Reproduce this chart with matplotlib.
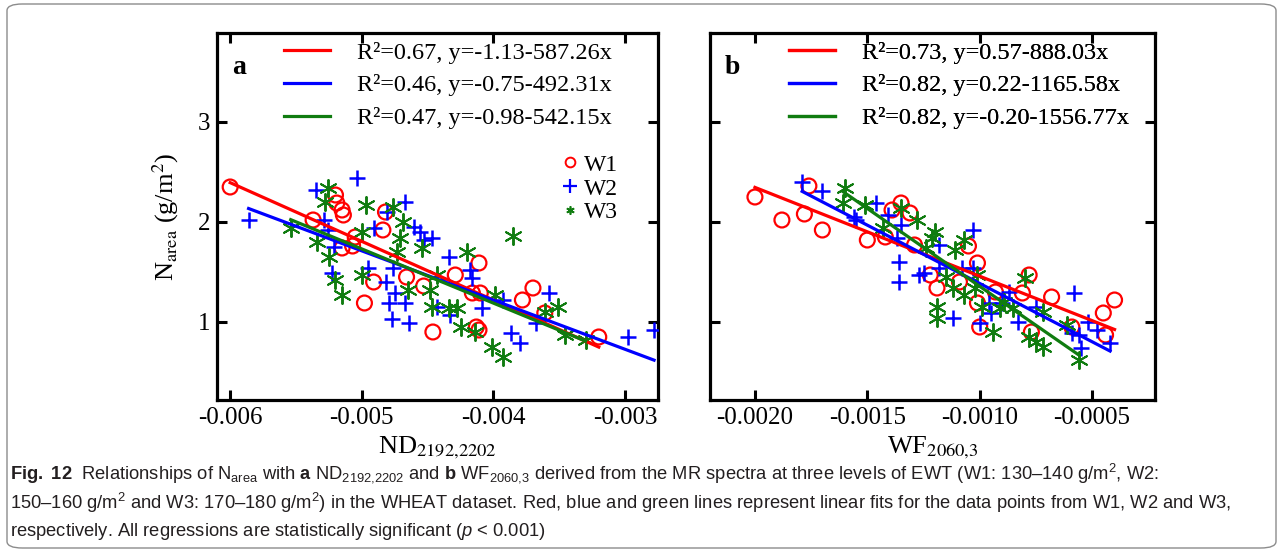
import numpy as np
import matplotlib
matplotlib.use("Agg")
import matplotlib.pyplot as plt
from matplotlib.lines import Line2D
from matplotlib.patches import FancyBboxPatch

# ---- panel a : N_area vs ND(2192,2202) ----
nd_w1_x = [-0.00600, -0.00537, -0.00520, -0.00519, -0.00515, -0.00514, -0.00505, -0.00507, -0.00515,
           -0.00491, -0.00498, -0.00482, -0.00484, -0.00466, -0.00453, -0.00446, -0.00429, -0.00411,
           -0.00416, -0.00410, -0.00413, -0.00411, -0.00378, -0.00370, -0.00361, -0.00320]
nd_w1_y = [2.35, 2.02, 2.27, 2.19, 2.12, 2.07, 1.85, 1.76, 1.74,
           1.40, 1.19, 2.10, 1.92, 1.45, 1.36, 0.90, 1.47, 1.59,
           1.29, 1.29, 0.95, 0.92, 1.22, 1.34, 1.09, 0.85]
nd_w2_x = [-0.00586, -0.00535, -0.00504, -0.00529, -0.00526, -0.00521, -0.00523, -0.00495, -0.00491,
           -0.00481, -0.00467, -0.00460, -0.00456, -0.00447, -0.00453, -0.00434, -0.00418, -0.00416,
           -0.00476, -0.00482, -0.00475, -0.00479, -0.00467, -0.00477, -0.00464, -0.00443, -0.00433,
           -0.00409, -0.00393, -0.00387, -0.00380, -0.00368, -0.00358, -0.00298, -0.00278]
nd_w2_y = [2.02, 2.32, 2.44, 2.02, 1.92, 1.75, 1.49, 1.54, 1.94,
           2.10, 2.20, 1.95, 1.90, 1.84, 1.82, 1.65, 1.52, 1.44,
           1.54, 1.40, 1.29, 1.19, 1.19, 1.03, 0.99, 1.15, 1.07,
           1.14, 1.22, 0.89, 0.79, 0.99, 1.29, 0.85, 0.92]
nd_w3_x = [-0.00554, -0.00526, -0.00528, -0.00497, -0.00534, -0.00525, -0.00520, -0.00515, -0.00500,
           -0.00500, -0.00476, -0.00469, -0.00471, -0.00473, -0.00454, -0.00465, -0.00448, -0.00443,
           -0.00447, -0.00434, -0.00428, -0.00425, -0.00414, -0.00420, -0.00385, -0.00399, -0.00401,
           -0.00393, -0.00361, -0.00351, -0.00346, -0.00330]
nd_w3_y = [1.94, 2.34, 2.20, 2.17, 1.80, 1.65, 1.42, 1.27, 1.90,
           1.47, 2.15, 2.00, 1.84, 1.70, 1.74, 1.32, 1.32, 1.47,
           1.15, 1.14, 1.14, 0.95, 0.90, 1.70, 1.86, 1.27, 0.75,
           0.65, 1.10, 1.15, 0.87, 0.82]
nd_intercept = [-1.13, -0.75, -0.98]
nd_slope = [-587.26, -492.31, -542.15]
nd_r2 = [0.67, 0.46, 0.47]

# ---- panel b : N_area vs WF(2060,3) ----
wf_w1_x = [-0.00200, -0.00188, -0.00178, -0.00176, -0.00170, -0.00150, -0.00142, -0.00139, -0.00135,
           -0.00131, -0.00129, -0.00105, -0.00101, -0.00122, -0.00119, -0.00109, -0.00101, -0.00100,
           -0.00093, -0.00081, -0.00078, -0.00068, -0.00077, -0.00059, -0.00045, -0.00040, -0.00044]
wf_w1_y = [2.25, 2.02, 2.08, 2.36, 1.92, 1.82, 1.85, 2.12, 2.19,
           2.09, 1.77, 1.76, 1.59, 1.47, 1.34, 1.40, 1.19, 0.95,
           1.30, 1.29, 1.47, 1.25, 0.90, 0.95, 1.09, 1.22, 0.87]
wf_w2_x = [-0.00179, -0.00170, -0.00156, -0.00155, -0.00146, -0.00141, -0.00135, -0.00137, -0.00136,
           -0.00136, -0.00127, -0.00103, -0.00118, -0.00125, -0.00118, -0.00108, -0.00103, -0.00112,
           -0.00096, -0.00095, -0.00087, -0.00083, -0.00075, -0.00058, -0.00059, -0.00056, -0.00055,
           -0.00100, -0.00090, -0.00052, -0.00048, -0.00042]
wf_w2_y = [2.40, 2.31, 2.05, 2.02, 2.19, 2.07, 1.97, 1.84, 1.60,
           1.40, 1.47, 1.92, 1.77, 1.49, 1.54, 1.54, 1.54, 1.04,
           1.19, 1.09, 1.30, 1.00, 1.15, 1.29, 0.89, 0.87, 0.74,
           0.99, 1.19, 1.00, 0.92, 0.79]
wf_w3_x = [-0.00160, -0.00161, -0.00151, -0.00135, -0.00143, -0.00128, -0.00120, -0.00121, -0.00124,
           -0.00111, -0.00107, -0.00115, -0.00112, -0.00107, -0.00102, -0.00101, -0.00119, -0.00119,
           -0.00099, -0.00091, -0.00089, -0.00085, -0.00072, -0.00080, -0.00094, -0.00078, -0.00075,
           -0.00072, -0.00061, -0.00056]
wf_w3_y = [2.34, 2.19, 2.17, 2.14, 1.94, 2.02, 1.90, 1.84, 1.74,
           1.72, 1.82, 1.45, 1.34, 1.27, 1.34, 1.47, 1.15, 1.04,
           1.15, 1.14, 1.20, 1.14, 1.10, 1.44, 0.90, 0.85, 0.80,
           0.75, 0.97, 0.62]
wf_intercept = [0.57, 0.22, -0.20]
wf_slope = [-888.03, -1165.58, -1556.77]
wf_r2 = [0.73, 0.82, 0.82]

nd_ticks = [-0.006, -0.005, -0.004, -0.003]
nd_ticklabels = ["-0.006", "-0.005", "-0.004", "-0.003"]
wf_ticks = [-0.0020, -0.0015, -0.0010, -0.0005]
wf_ticklabels = ["-0.0020", "-0.0015", "-0.0010", "-0.0005"]
y_ticks = [1, 2, 3]
y_ticklabels = ["1", "2", "3"]
group_names = ["W1", "W2", "W3"]

colors = ["#ff0000", "#0000ff", "#107c10"]
serif = ["Liberation Serif", "DejaVu Serif"]
sans = ["Liberation Sans", "DejaVu Sans"]

plt.rcParams["font.family"] = serif
plt.rcParams["mathtext.fontset"] = "custom"
plt.rcParams["mathtext.rm"] = "Liberation Sans"
plt.rcParams["mathtext.it"] = "Liberation Sans:italic"
plt.rcParams["mathtext.bf"] = "Liberation Sans:bold"


def fmt(v):
    return "%.2f" % v


def draw_panel(ax, xs, ys, icpt, slope, r2, ticks, ticklabels, xlim, letter, xlabel, legx):
    # scatter of the three EWT levels
    ax.scatter(xs[0], ys[0], s=115, facecolors="none", edgecolors=colors[0], linewidths=1.6, zorder=3)
    ax.scatter(xs[1], ys[1], s=140, marker="+", color=colors[1], linewidths=1.8, zorder=3)
    ax.scatter(xs[2], ys[2], s=150, marker=(6, 2, 0), color=colors[2], linewidths=1.4, zorder=3)
    # linear fits
    handles = []
    labels = []
    for i in range(3):
        xx = np.array([min(xs[i]), max(xs[i])])
        ax.plot(xx, icpt[i] + slope[i] * xx, color=colors[i], lw=2.3, zorder=4)
        handles.append(Line2D([], [], color=colors[i], lw=2.3))
        labels.append("R\u00b2=" + fmt(r2[i]) + ", y=" + fmt(icpt[i]) + "-" + fmt(-slope[i]) + "x")
    leg = ax.legend(handles, labels, loc="upper left", bbox_to_anchor=(legx, 0.99), frameon=False,
                    fontsize=17.5, handlelength=1.9, handletextpad=1.1, labelspacing=0.45,
                    borderpad=0.2, borderaxespad=0)
    ax.add_artist(leg)
    ax.text(0.05, 0.905, letter, transform=ax.transAxes, fontsize=20, fontweight="bold",
            ha="center", va="center")
    ax.set_xlim(xlim)
    ax.set_ylim(0.22, 3.89)
    ax.set_xticks(ticks)
    ax.set_xticklabels(ticklabels)
    ax.set_yticks(y_ticks)
    ax.set_yticklabels(y_ticklabels)
    ax.tick_params(direction="in", length=7, width=2.2, top=True, right=True, labelsize=18, pad=5)
    for sp in ax.spines.values():
        sp.set_linewidth(2.3)
    ax.set_xlabel(xlabel, fontsize=19, labelpad=4, math_fontfamily="stix")


def main():
    fig = plt.figure(figsize=(12.82, 5.52), dpi=100)
    W, H = 1282.0, 552.0

    box = FancyBboxPatch((7 / W, 4 / H), 1269 / W, 544 / H, boxstyle="round,pad=0,rounding_size=0.012",
                         transform=fig.transFigure, facecolor="none", edgecolor="#8c8c8c", lw=1.0)
    fig.patches.append(box)

    ax1 = fig.add_axes([217 / W, 1 - 400 / H, 441 / W, 367 / H])
    ax2 = fig.add_axes([710 / W, 1 - 400 / H, 445 / W, 367 / H])

    draw_panel(ax1, [nd_w1_x, nd_w2_x, nd_w3_x], [nd_w1_y, nd_w2_y, nd_w3_y],
               nd_intercept, nd_slope, nd_r2, nd_ticks, nd_ticklabels, (-0.0061, -0.00275), "a",
               r"ND$_{2192{,}2202}$", 0.14)
    draw_panel(ax2, [wf_w1_x, wf_w2_x, wf_w3_x], [wf_w1_y, wf_w2_y, wf_w3_y],
               wf_intercept, wf_slope, wf_r2, wf_ticks, wf_ticklabels, (-0.0022, -0.00022), "b",
               r"WF$_{2060{,}3}$", 0.167)
    ax2.set_yticklabels([])
    ax1.set_ylabel(r"N$_{\mathrm{area}}$ (g/m$^{2}$)", fontsize=19, labelpad=12, math_fontfamily="stix")

    # W1/W2/W3 marker key
    mk = [Line2D([], [], ls="none", marker="o", mfc="none", mec=colors[0], ms=7, mew=1.4),
          Line2D([], [], ls="none", marker="+", color=colors[1], ms=10, mew=1.6),
          Line2D([], [], ls="none", marker=(6, 2, 0), color=colors[2], ms=6, mew=1.2)]
    ax1.legend(mk, group_names, loc="upper left", bbox_to_anchor=(0.784, 0.67), frameon=False,
               fontsize=17, handlelength=0.6, handletextpad=0.3, labelspacing=0.1,
               borderpad=0, borderaxespad=0)

    cap_kw = dict(fontsize=13.2, family=sans, color="#231f20", va="center", ha="left",
                  math_fontfamily="custom")
    line1 = (r"$\mathbf{Fig.\ 12}$  Relationships of N$_{\mathrm{area}}$ with $\mathbf{a}$ ND$_{\mathrm{2192{,}2202}}$"
             r" and $\mathbf{b}$ WF$_{\mathrm{2060{,}3}}$ derived from the MR spectra at three levels of EWT"
             r" (W1: 130–140 g/m$^{2}$, W2:")
    line2 = (r"150–160 g/m$^{2}$ and W3: 170–180 g/m$^{2}$) in the WHEAT dataset. Red, blue and green lines"
             r" represent linear fits for the data points from W1, W2 and W3,")
    line3 = r"respectively. All regressions are statistically significant ($p$ < 0.001)"
    fig.text(10 / W, 1 - 473 / H, line1, **cap_kw)
    fig.text(10 / W, 1 - 503 / H, line2, **cap_kw)
    fig.text(10 / W, 1 - 532 / H, line3, **cap_kw)

    fig.savefig("out.png", dpi=100)
    plt.close()


if __name__ == "__main__":
    main()
